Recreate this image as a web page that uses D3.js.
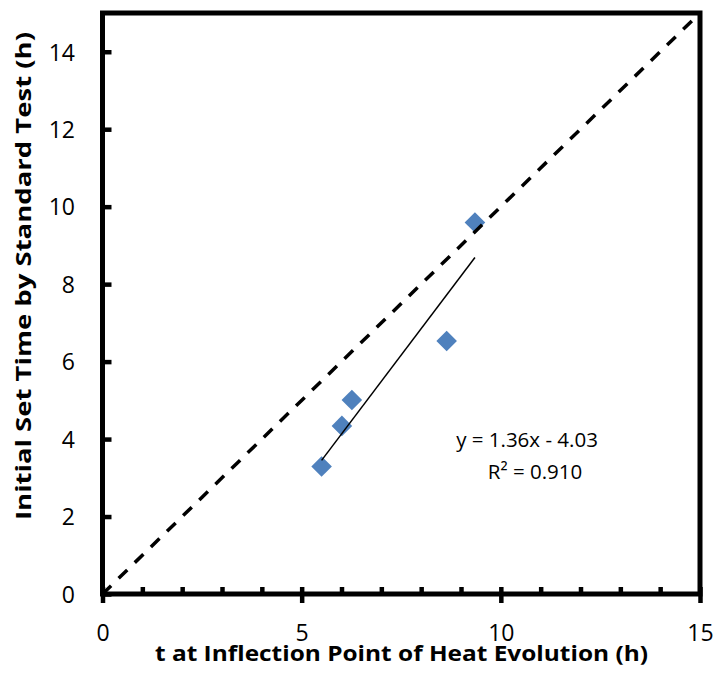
<!DOCTYPE html>
<html>
<head>
<meta charset="utf-8">
<script src="https://cdn.jsdelivr.net/npm/d3@7/dist/d3.min.js"></script>
<style>
  html, body { margin: 0; padding: 0; background: #fff; }
  svg { display: block; }
  text { font-family: "Open Sans", Lato, sans-serif; fill: #000; }
</style>
</head>
<body>
<svg id="chart" width="718" height="676"></svg>
<script>
// ---- data ----
const xValues = [5.50, 6.01, 6.26, 8.64, 9.35];
const yValues = [3.29, 4.34, 5.01, 6.53, 9.59];
const xTicks = [0, 5, 10, 15];
const xMinorTicks = [1, 2, 3, 4, 6, 7, 8, 9, 11, 12, 13, 14];
const yTicks = [0, 2, 4, 6, 8, 10, 12, 14];
const trendSlope = 1.36;
const trendIntercept = -4.03;
const identityRange = [0, 15];
const equationLines = ["y = 1.36x - 4.03", "R\u00B2 = 0.910"];
const xTitle = "t at Inflection Point of Heat Evolution (h)";
const yTitle = "Initial Set Time by Standard Test (h)";

// ---- layout ----
const plot = { left: 102.5, right: 700, top: 13, bottom: 594 };
const svg = d3.select("#chart");

const x = d3.scaleLinear().domain([0, 15]).range([plot.left, plot.right]);
const y = d3.scaleLinear().domain([0, 15]).range([plot.bottom, plot.top]);

const points = xValues.map((v, i) => ({ x: v, y: yValues[i] }));

// markers
svg.append("g")
  .selectAll("path")
  .data(points)
  .join("path")
  .attr("d", d3.symbol().type(d3.symbolSquare).size(212))
  .attr("transform", d => `translate(${x(d.x)},${y(d.y)}) rotate(45)`)
  .attr("fill", "#4F81BD");

// trendline
const xExt = d3.extent(xValues);
svg.append("path")
  .datum(xExt.map(v => ({ x: v, y: trendSlope * v + trendIntercept })))
  .attr("d", d3.line().x(d => x(d.x)).y(d => y(d.y)))
  .attr("stroke", "#000")
  .attr("stroke-width", 1.5)
  .attr("fill", "none");

// identity dashed line
svg.append("path")
  .datum(identityRange.map(v => ({ x: v, y: v })))
  .attr("d", d3.line().x(d => x(d.x)).y(d => y(d.y)))
  .attr("stroke", "#000")
  .attr("stroke-width", 3.5)
  .attr("stroke-dasharray", "12,10.5")
  .attr("fill", "none");

// x axis major (cross ticks)
const gx = svg.append("g")
  .attr("transform", `translate(0,${plot.bottom})`)
  .call(d3.axisBottom(x).tickValues(xTicks).tickFormat(d3.format("d")).tickSize(9).tickPadding(0));
gx.select(".domain").remove();
gx.selectAll(".tick line").attr("y1", -7).attr("y2", 9).attr("stroke", "#000").attr("stroke-width", 4.5);
gx.selectAll(".tick text").attr("y", 47).attr("dy", null).attr("font-size", 23)
  .style("font-family", "'Open Sans', sans-serif");

// x axis minor (inside)
const gxm = svg.append("g")
  .attr("transform", `translate(0,${plot.bottom})`)
  .call(d3.axisTop(x).tickValues(xMinorTicks).tickSize(7).tickFormat(""));
gxm.select(".domain").remove();
gxm.selectAll(".tick line").attr("stroke", "#000").attr("stroke-width", 4.5);

// y axis (inside ticks)
const gy = svg.append("g")
  .attr("transform", `translate(${plot.left},0)`)
  .call(d3.axisRight(y).tickValues(yTicks).tickFormat(d3.format("d")).tickSize(9));
gy.select(".domain").remove();
gy.selectAll(".tick line").attr("stroke", "#000").attr("stroke-width", 4.5);
gy.selectAll(".tick text")
  .attr("x", 75 - plot.left)
  .attr("dy", "0.36em")
  .attr("text-anchor", "end")
  .attr("font-size", 23)
  .style("font-family", "'Open Sans', sans-serif");

// frame
svg.append("rect")
  .attr("x", plot.left).attr("y", plot.top)
  .attr("width", plot.right - plot.left).attr("height", plot.bottom - plot.top)
  .attr("fill", "none").attr("stroke", "#000").attr("stroke-width", 5);

// equation label
const eqCenters = [527, 535];
const eqBaselines = [447, 479];
svg.append("g").selectAll("text")
  .data(equationLines)
  .join("text")
  .attr("x", (d, i) => eqCenters[i])
  .attr("y", (d, i) => eqBaselines[i])
  .attr("text-anchor", "middle")
  .attr("font-size", 20.5)
  .text(d => d);

// axis titles
svg.append("text")
  .attr("x", 401.5).attr("y", 661)
  .attr("text-anchor", "middle")
  .attr("font-size", 22).attr("font-weight", "bold")
  .attr("textLength", 493).attr("lengthAdjust", "spacingAndGlyphs")
  .text(xTitle);

svg.append("text")
  .attr("transform", "translate(31,276) rotate(-90)")
  .attr("text-anchor", "middle")
  .attr("font-size", 22).attr("font-weight", "bold")
  .attr("textLength", 488).attr("lengthAdjust", "spacingAndGlyphs")
  .text(yTitle);
</script>
</body>
</html>
